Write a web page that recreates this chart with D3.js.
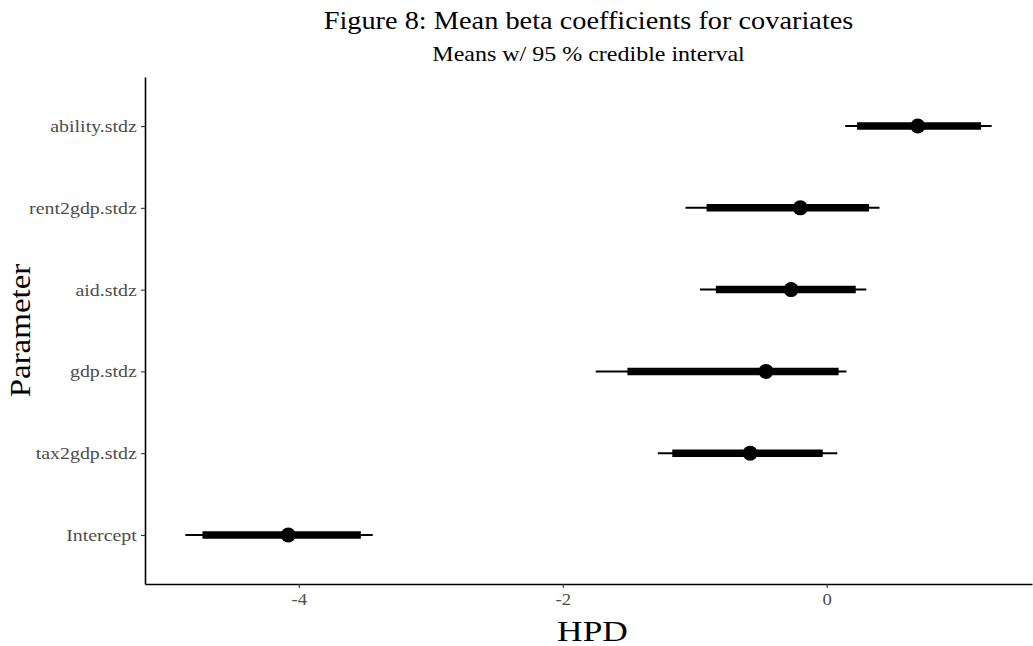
<!DOCTYPE html>
<html lang="en">
<head>
    <meta charset="UTF-8">
    <title>Mean beta coefficients for covariates</title>
    <script src="https://cdn.jsdelivr.net/npm/d3@7"></script>
    <style>
        body {
            margin: 0;
            padding: 0;
            background: #fff;
        }
        svg text {
            font-family: 'Liberation Serif', 'Times New Roman', serif;
        }
    </style>
</head>
<body>
    <svg id="chart" width="1033" height="646"></svg>

    <script>
        // Parameters, top to bottom
        const params = ["ability.stdz", "rent2gdp.stdz", "aid.stdz", "gdp.stdz", "tax2gdp.stdz", "Intercept"];
        const means   = [0.69, -0.20, -0.27, -0.46, -0.58, -4.08];
        const innerLo = [0.23, -0.91, -0.84, -1.51, -1.17, -4.73];
        const innerHi = [1.17, 0.32, 0.22, 0.09, -0.03, -3.53];
        const outerLo = [0.14, -1.07, -0.96, -1.75, -1.28, -4.86];
        const outerHi = [1.25, 0.40, 0.30, 0.15, 0.08, -3.44];
        const xTicks = [-4, -2, 0];

        const rows = params.map((p, i) => ({
            name: p, mean: means[i],
            lo: innerLo[i], hi: innerHi[i],
            lo2: outerLo[i], hi2: outerHi[i]
        }));

        const svg = d3.select("#chart");
        const margin = { left: 145, right: 1, top: 77, bottom: 62 };
        const width = 1033, height = 646;
        const stretch = 1.17; // reference glyphs are a bit wide

        // ggplot-style 5% expansion
        const minV = d3.min(outerLo), maxV = d3.max(outerHi);
        const pad = (maxV - minV) * 0.05;
        const x = d3.scaleLinear()
            .domain([minV - pad, maxV + pad])
            .range([margin.left, width - margin.right]);

        const y = d3.scalePoint()
            .domain(params)
            .range([margin.top, height - margin.bottom])
            .padding(0.6);

        // axes
        const xAxis = svg.append("g")
            .attr("transform", `translate(0,${height - margin.bottom})`)
            .call(d3.axisBottom(x).tickValues(xTicks).tickFormat(d => String(d))
                .tickSize(4).tickPadding(6).tickSizeOuter(0));
        xAxis.select(".domain").attr("stroke", "#000").attr("stroke-width", 1.6);
        xAxis.selectAll(".tick line").attr("stroke", "#333").attr("stroke-width", 1.1);
        xAxis.selectAll(".tick text")
            .attr("fill", "#4d4d4d")
            .attr("transform", `scale(${stretch},1)`)
            .style("font-size", "16px")
            .style("font-family", "'Liberation Serif', serif");

        const yAxis = svg.append("g")
            .attr("transform", `translate(${margin.left},0)`)
            .call(d3.axisLeft(y).tickSize(4).tickPadding(3).tickSizeOuter(0));
        yAxis.select(".domain").attr("stroke", "#000").attr("stroke-width", 1.6);
        yAxis.selectAll(".tick line").attr("stroke", "#333").attr("stroke-width", 1.1);
        yAxis.selectAll(".tick text")
            .attr("fill", "#4d4d4d")
            .attr("transform", `scale(${stretch},1)`)
            .style("font-size", "17px")
            .style("font-family", "'Liberation Serif', serif");

        // outer interval (thin)
        svg.selectAll("line.outer")
            .data(rows)
            .enter().append("line")
            .attr("class", "outer")
            .attr("x1", d => x(d.lo2))
            .attr("x2", d => x(d.hi2))
            .attr("y1", d => y(d.name))
            .attr("y2", d => y(d.name))
            .attr("stroke", "#000")
            .attr("stroke-width", 2);

        // inner interval (thick)
        svg.selectAll("line.inner")
            .data(rows)
            .enter().append("line")
            .attr("class", "inner")
            .attr("x1", d => x(d.lo))
            .attr("x2", d => x(d.hi))
            .attr("y1", d => y(d.name))
            .attr("y2", d => y(d.name))
            .attr("stroke", "#000")
            .attr("stroke-width", 7.5);

        // means
        svg.selectAll("circle")
            .data(rows)
            .enter().append("circle")
            .attr("cx", d => x(d.mean))
            .attr("cy", d => y(d.name))
            .attr("r", 7.5)
            .attr("fill", "#000");

        // titles
        function label(tx, ty, rot, size, sx, txt) {
            svg.append("g")
                .attr("transform", `translate(${tx},${ty}) rotate(${rot})`)
                .append("text")
                .attr("transform", `scale(${sx},1)`)
                .attr("text-anchor", "middle")
                .style("font-size", size + "px")
                .attr("fill", "#000")
                .text(txt);
        }

        const cx = (margin.left + width - margin.right) / 2;
        label(cx, 29, 0, 26, 1.09, "Figure 8: Mean beta coefficients for covariates");
        label(cx, 61, 0, 20, 1.2, "Means w/ 95 % credible interval");
        label(cx + 4, 641, 0, 30, 1.18, "HPD");
        label(30, (margin.top + height - margin.bottom) / 2, -90, 30, 1.1, "Parameter");
    </script>
</body>
</html>
